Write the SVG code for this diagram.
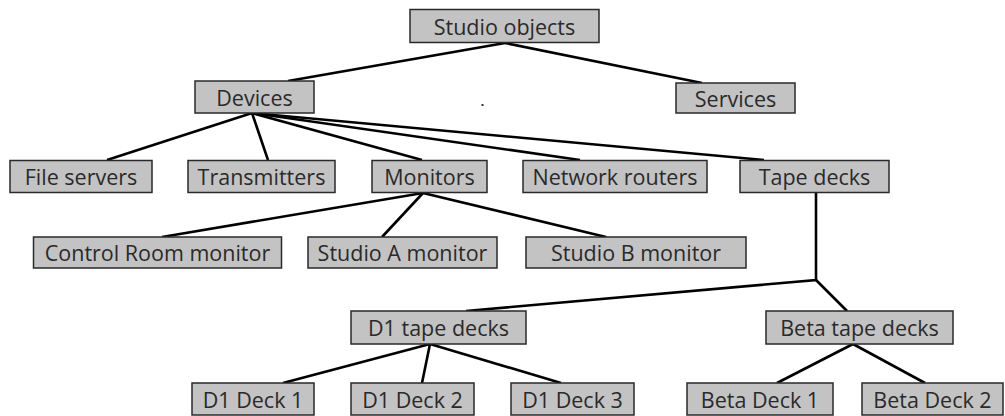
<svg xmlns="http://www.w3.org/2000/svg" width="1005" height="416" viewBox="0 0 1005 416">
<style>
.box rect{fill:#c3c3c3;stroke:#2a2a2a;stroke-width:1.5}
.box text{font-family:"Open Sans","Liberation Sans",sans-serif;font-size:21.5px;fill:#2a2a2a;text-anchor:middle;dominant-baseline:central}
#connectors line,#connectors polyline{stroke:#000;stroke-width:2.6;fill:none;stroke-linejoin:miter}
</style>
<rect width="1005" height="416" fill="#fff"/>
<g id="connectors">
<line x1="505" y1="43" x2="288" y2="81"/>
<line x1="505" y1="43" x2="702" y2="83"/>
<line x1="252" y1="113" x2="107" y2="160"/>
<line x1="252" y1="113" x2="268" y2="160"/>
<line x1="252" y1="113" x2="422" y2="160"/>
<line x1="252" y1="113" x2="580" y2="160"/>
<line x1="252" y1="113" x2="764" y2="160"/>
<line x1="423" y1="193" x2="162" y2="237"/>
<line x1="423" y1="193" x2="382" y2="237"/>
<line x1="423" y1="193" x2="606" y2="237"/>
<polyline points="816,193 816,280 466,311"/>
<line x1="816" y1="280" x2="847" y2="311"/>
<line x1="430" y1="344" x2="283" y2="383"/>
<line x1="430" y1="344" x2="422" y2="383"/>
<line x1="430" y1="344" x2="561" y2="383"/>
<line x1="853" y1="344" x2="777" y2="383"/>
<line x1="853" y1="344" x2="925" y2="383"/>
</g>
<g id="studio-objects" class="box"><rect x="410" y="9.5" width="189" height="33"/><text x="504.5" y="26">Studio objects</text></g>
<g id="devices" class="box"><rect x="195" y="81" width="119" height="32"/><text x="254.5" y="97">Devices</text></g>
<g id="services" class="box"><rect x="676" y="83" width="119" height="30"/><text x="735.5" y="98">Services</text></g>
<g id="file-servers" class="box"><rect x="10" y="160.5" width="142" height="32"/><text x="81" y="176.5">File servers</text></g>
<g id="transmitters" class="box"><rect x="188" y="160.5" width="147" height="32"/><text x="261.5" y="176.5">Transmitters</text></g>
<g id="monitors" class="box"><rect x="372" y="160.5" width="115" height="32"/><text x="429.5" y="176.5">Monitors</text></g>
<g id="network-routers" class="box"><rect x="523" y="160.5" width="184" height="32"/><text x="615" y="176.5">Network routers</text></g>
<g id="tape-decks" class="box"><rect x="740" y="160.5" width="149" height="32"/><text x="814.5" y="176.5">Tape decks</text></g>
<g id="control-room-monitor" class="box"><rect x="33.5" y="237" width="248" height="31"/><text x="157.5" y="252.5">Control Room monitor</text></g>
<g id="studio-a-monitor" class="box"><rect x="308" y="237" width="189" height="31"/><text x="402.5" y="252.5">Studio A monitor</text></g>
<g id="studio-b-monitor" class="box"><rect x="526" y="237" width="220" height="31"/><text x="636" y="252.5">Studio B monitor</text></g>
<g id="d1-tape-decks" class="box"><rect x="351" y="311" width="175" height="33"/><text x="438.5" y="327.5">D1 tape decks</text></g>
<g id="beta-tape-decks" class="box"><rect x="766" y="311" width="187" height="33"/><text x="859.5" y="327.5">Beta tape decks</text></g>
<g id="d1-deck-1" class="box"><rect x="192" y="383" width="122" height="32"/><text x="253" y="399">D1 Deck 1</text></g>
<g id="d1-deck-2" class="box"><rect x="351" y="383" width="123" height="32"/><text x="412.5" y="399">D1 Deck 2</text></g>
<g id="d1-deck-3" class="box"><rect x="511" y="383" width="123" height="32"/><text x="572.5" y="399">D1 Deck 3</text></g>
<g id="beta-deck-1" class="box"><rect x="687" y="383" width="146" height="32"/><text x="760" y="399">Beta Deck 1</text></g>
<g id="beta-deck-2" class="box"><rect x="862" y="383" width="141" height="32"/><text x="932.5" y="399">Beta Deck 2</text></g>
<rect x="481.5" y="104" width="2" height="2" fill="#333"/>
</svg>
